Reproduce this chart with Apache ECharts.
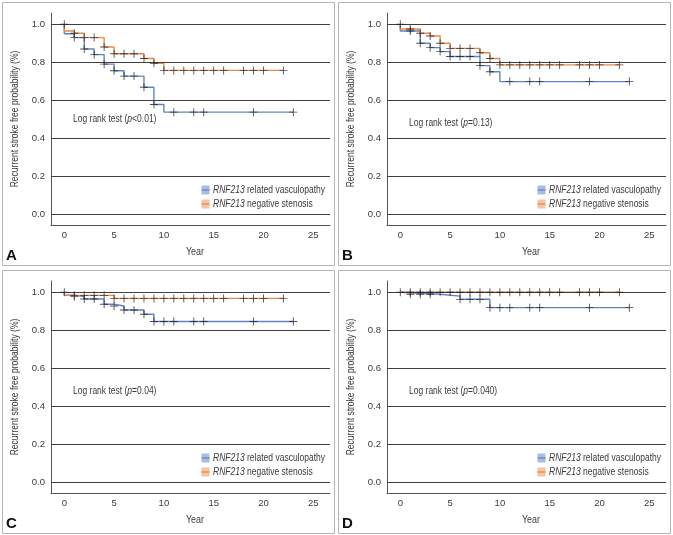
<!DOCTYPE html>
<html><head><meta charset="utf-8">
<script src="https://cdn.jsdelivr.net/npm/echarts@6/dist/echarts.min.js"></script>
<style>html,body{margin:0;padding:0;background:#fff}#c{width:673px;height:535px}</style>
</head><body><div id="c"></div>
<script>
// ---------- data ----------
const xTicks = [0, 5, 10, 15, 20, 25];
const yTicks = [0, 0.2, 0.4, 0.6, 0.8, 1.0];
const panelLetters = ['A', 'B', 'C', 'D'];
const pOps = ['<', '=', '=', '='];
const pNums = ['0.01', '0.13', '0.04', '0.040'];
const geneName = 'RNF213';
const groupLabels = [' related vasculopathy', ' negative stenosis'];
const xTitle = 'Year';
const yTitle = 'Recurrent stroke free probability (%)';
const startPoint = [0, 1.0];

// Panel A
const aRelT = [0, 0, 1, 2, 3, 4, 5, 6, 8, 9, 10, 23];
const aRelS = [1, 0.95, 0.93, 0.87, 0.84, 0.79, 0.755, 0.727, 0.668, 0.577, 0.537, 0.537];
const aRelCens = [1, 2, 3, 4, 5, 6, 7, 8, 9, 11, 13, 14, 19, 23];
const aNegT = [0, 0, 1, 2, 4, 5, 8, 9, 10, 22];
const aNegS = [1, 0.965, 0.953, 0.93, 0.88, 0.845, 0.82, 0.795, 0.757, 0.757];
const aNegCens = [1, 2, 3, 4, 5, 6, 7, 8, 9, 10, 11, 12, 13, 14, 15, 16, 18, 19, 20, 22];
// Panel B
const bRelT = [0, 0, 2, 3, 4, 5, 8, 9, 10, 23];
const bRelS = [1, 0.965, 0.90, 0.877, 0.856, 0.83, 0.782, 0.75, 0.698, 0.698];
const bRelCens = [1, 2, 3, 4, 5, 6, 7, 8, 9, 11, 13, 14, 19, 23];
const bNegT = [0, 0, 2, 3, 4, 5, 8, 9, 10, 22];
const bNegS = [1, 0.975, 0.953, 0.938, 0.90, 0.873, 0.85, 0.82, 0.786, 0.786];
const bNegCens = [1, 2, 3, 4, 5, 6, 7, 8, 9, 10, 11, 12, 13, 14, 15, 16, 18, 19, 20, 22];
// Panel C
const cRelT = [0, 0, 1, 2, 4, 5, 6, 8, 9, 23];
const cRelS = [1, 0.985, 0.977, 0.965, 0.937, 0.928, 0.907, 0.884, 0.846, 0.846];
const cRelCens = [1, 2, 3, 4, 5, 6, 7, 8, 9, 10, 11, 13, 14, 19, 23];
const cNegT = [0, 0, 5, 22];
const cNegS = [1, 0.984, 0.968, 0.968];
const cNegCens = [1, 2, 3, 4, 5, 6, 7, 8, 9, 10, 11, 12, 13, 14, 15, 16, 18, 19, 20, 22];
// Panel D
const dRelT = [0, 0, 4, 6, 9, 23];
const dRelS = [1, 0.99, 0.98, 0.963, 0.919, 0.919];
const dRelCens = [1, 2, 3, 6, 7, 8, 9, 10, 11, 13, 14, 19, 23];
const dNegT = [0, 22];
const dNegS = [1, 1];
const dNegCens = [1, 2, 3, 4, 5, 6, 7, 8, 9, 10, 11, 12, 13, 14, 15, 16, 18, 19, 20, 22];

// ---------- build ----------
const panels = [
  {rel: [aRelT, aRelS, aRelCens], neg: [aNegT, aNegS, aNegCens]},
  {rel: [bRelT, bRelS, bRelCens], neg: [bNegT, bNegS, bNegCens]},
  {rel: [cRelT, cRelS, cRelCens], neg: [cNegT, cNegS, cNegCens]},
  {rel: [dRelT, dRelS, dRelCens], neg: [dNegT, dNegS, dNegCens]}
];
const FONT = "'Liberation Sans', Arial, sans-serif";
const BLUE = '#6284c4', BLUE_L = '#a9bde3';
const ORANGE = '#e88a4c', ORANGE_L = '#f5c4a0';
const INK = '#3a3a3a';
const NARROW = 0.81;
const PLUS = 'path://M4,0H5V4H9V5H5V9H4V5H0V4H4Z';

function curve(T, S) { return T.map((t, i) => [t, S[i]]); }
function survAt(T, S, t) { let v = S[0]; for (let i = 0; i < T.length; i++) { if (T[i] <= t) v = S[i]; } return v; }

const offs = [[0, 0], [336, 0], [0, 268], [336, 268]];
const logRankY = [119, 123, 123, 123];

const grid = [], xAxis = [], yAxis = [], series = [], graphic = [];
panels.forEach((p, k) => {
  const [dx, dy] = offs[k];
  grid.push({left: 51 + dx, top: 13 + dy, width: 279, height: 212});
  xAxis.push({
    type: 'value', gridIndex: k, min: -1.335, max: 26.68,
    axisLine: {show: true, onZero: false, lineStyle: {color: '#555', width: 1}},
    axisTick: {show: false}, splitLine: {show: false},
    axisLabel: {customValues: xTicks, color: INK, fontSize: 9.5, fontFamily: FONT, margin: 5}
  });
  yAxis.push({
    type: 'value', gridIndex: k, min: -0.058, max: 1.0596,
    axisLine: {show: true, onZero: false, lineStyle: {color: '#555', width: 1}},
    axisTick: {show: false}, splitLine: {show: false},
    axisLabel: {customValues: yTicks, color: INK, fontSize: 9.5, fontFamily: FONT, margin: 6,
      formatter: v => v.toFixed(1)}
  });
  // grid lines via markLine
  series.push({
    type: 'line', xAxisIndex: k, yAxisIndex: k, data: [], silent: true, z: 1,
    markLine: {silent: true, symbol: 'none', animation: false, label: {show: false},
      lineStyle: {color: '#404040', width: 1, type: 'solid'},
      data: yTicks.map(v => ({yAxis: v}))}
  });
  [[p.rel, BLUE], [p.neg, ORANGE]].forEach(([d, col]) => {
    series.push({
      type: 'line', xAxisIndex: k, yAxisIndex: k, step: 'end', showSymbol: false,
      data: curve(d[0], d[1]), lineStyle: {color: col, width: 1.4}, z: 3, animation: false
    });
  });
  [p.rel, p.neg].forEach((d) => {
    series.push({
      type: 'scatter', xAxisIndex: k, yAxisIndex: k, symbol: PLUS, symbolSize: 8,
      itemStyle: {color: '#222'}, z: 5, animation: false,
      data: d[2].map(t => [t, survAt(d[0], d[1], t)])
    });
  });
  series.push({
    type: 'scatter', xAxisIndex: k, yAxisIndex: k, symbol: PLUS, symbolSize: 8,
    itemStyle: {color: '#222'}, z: 5, animation: false, data: [startPoint]
  });

  // panel border
  graphic.push({type: 'rect', shape: {x: 2.5 + dx, y: 2.5 + dy, width: 332, height: 263},
    style: {fill: 'none', stroke: '#b5b5b5', lineWidth: 1}, silent: true, z: 0});
  // panel letter
  graphic.push({type: 'text', x: 6 + dx, y: 256 + dy, style: {text: panelLetters[k],
    font: "bold 15px Arial, 'Liberation Sans', sans-serif", fill: '#111', verticalAlign: 'middle'}});
  // y title
  graphic.push({type: 'text', x: 15 + dx, y: 119 + dy, rotation: Math.PI / 2, scaleX: NARROW,
    style: {text: yTitle, font: '10.5px ' + FONT, fill: INK, align: 'center', verticalAlign: 'middle'}});
  // x title
  graphic.push({type: 'text', x: 195 + dx, y: 252 + dy, scaleX: 0.85,
    style: {text: xTitle, font: '10.5px ' + FONT, fill: INK, align: 'center', verticalAlign: 'middle'}});
  // log rank text
  graphic.push({type: 'text', x: 73 + dx, y: logRankY[k] + dy, scaleX: NARROW,
    style: {text: '{n|Log rank test (}{i|p}{n|' + pOps[k] + pNums[k] + ')}', verticalAlign: 'middle',
      rich: {n: {font: '10.5px ' + FONT, fill: INK}, i: {font: 'italic 10.5px ' + FONT, fill: INK}}}});
  // legend
  [[BLUE, BLUE_L, 190], [ORANGE, ORANGE_L, 204]].forEach(([c, cl, yy], j) => {
    graphic.push({type: 'rect', shape: {x: 201.5 + dx, y: yy - 4.5 + dy, width: 8, height: 9},
      style: {fill: cl, stroke: null}});
    graphic.push({type: 'line', shape: {x1: 201.5 + dx, y1: yy + dy, x2: 209.5 + dx, y2: yy + dy},
      style: {stroke: c, lineWidth: 1.3}});
    graphic.push({type: 'text', x: 213 + dx, y: yy + dy, scaleX: NARROW,
      style: {text: '{i|' + geneName + '}{n|' + groupLabels[j] + '}', verticalAlign: 'middle',
        rich: {n: {font: '10.5px ' + FONT, fill: INK}, i: {font: 'italic 10.5px ' + FONT, fill: INK}}}});
  });
});

const chart = echarts.init(document.getElementById('c'), null, {renderer: 'canvas'});
chart.setOption({animation: false, backgroundColor: '#fff', grid, xAxis, yAxis, series, graphic});
</script></body></html>
